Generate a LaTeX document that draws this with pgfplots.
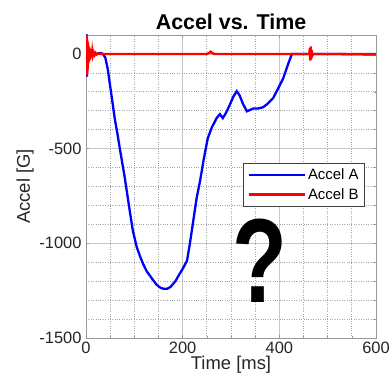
\documentclass[border=0pt]{standalone}
\usepackage{pgfplots}
\pgfplotsset{compat=1.18}
\usepackage{fontspec}
\setmainfont{Liberation Sans}
\definecolor{tickgray}{RGB}{38,38,38}
\pgfplotsset{
  mylegend/.style={legend image code/.code={\draw[##1] (0bp,0bp) -- (56bp,0bp);}},
}
\begin{document}
\begin{tikzpicture}
\begin{axis}[
  scale only axis,
  width=290bp, height=303bp,
  xmin=0, xmax=600, ymin=-1500, ymax=100,
  xtick={0,200,400,600},
  ytick={-1500,-1000,-500,0},
  minor x tick num=3,
  minor y tick num=4,
  grid=both,
  major grid style={gray!45, line width=0.6bp},
  minor grid style={gray!70, dotted, line width=0.7bp},
  tick align=inside,
  major tick length=3bp, minor tick length=1.5bp,
  tick style={gray!80, line width=0.6bp},
  axis line style={gray!80, line width=0.8bp},
  /pgf/number format/assume math mode=true,
  /pgf/number format/1000 sep={},
  ticklabel style={font=\fontsize{16.5}{18}\selectfont, text=tickgray},
  xticklabel style={yshift=-1bp},
  yticklabel style={xshift=-1bp},
  scaled y ticks=false,
  title={\textbf{Accel vs. Time}},
  title style={font=\fontsize{21.5}{23}\selectfont, yshift=-4bp},
  xlabel={Time [ms]},
  ylabel={Accel [G]},
  label style={font=\fontsize{18.5}{20}\selectfont, text=tickgray},
  xlabel style={yshift=5bp},
  ylabel style={yshift=-1bp},
  legend style={at={(0.962,0.578)}, anchor=north east, font=\fontsize{15}{17}\selectfont, draw=black!75, line width=0.6bp, row sep=3bp, inner xsep=4bp, inner ysep=4bp},
  legend cell align=left,
  mylegend,
  clip=true,
]
\addplot[blue, line width=2.3bp] coordinates {
(0,0)(1,110)(2,-120)(3,-20)(5,10)(8,-5)(12,5)(20,0)(30,5)(35,0)(40,-20)(45,-80)(50,-170)(55,-260)(60,-350)(65,-420)(70,-500)(80,-650)(90,-820)(97,-934)(105,-1020)(112,-1070)(118,-1108)(125,-1145)(132,-1170)(139,-1195)(145,-1215)(152,-1232)(160,-1240)(168,-1240)(175,-1230)(185,-1200)(194,-1160)(200,-1135)(209,-1092)(215,-1000)(222,-880)(229,-760)(236,-671)(244,-550)(252,-445)(260,-390)(270,-340)(277,-318)(283,-339)(290,-310)(298,-266)(305,-225)(312,-197)(318,-220)(325,-265)(333,-303)(340,-295)(346,-288)(356,-288)(366,-282)(375,-265)(387,-234)(397,-185)(408,-129)(418,-55)(426,0)(450,0)(500,0)(600,-3)
};
\addlegendentry{Accel A}
\addplot[red, line width=2.3bp] coordinates {
(0,0)(0.5,-20)(1,100)(1.5,-110)(2,90)(2.5,-100)(3,70)(3.5,-80)(4,60)(4.5,-55)(5,45)(6,-40)(7,35)(8,-30)(9,25)(10,-20)(11,18)(12,-15)(13,12)(14,-10)(16,8)(18,-6)(20,5)(22,-3)(25,2)(30,0)(100,0)(250,0)(255,5)(258,12)(261,5)(265,0)(300,0)(462,0)(463,30)(464,-35)(465,40)(466,-30)(467,20)(468,-10)(470,0)(600,0)
};
\addlegendentry{Accel B}
\node at (axis cs:360,-1090) {\fontsize{120}{120}\selectfont\bfseries\scalebox{0.75}[1]{?}};
\end{axis}
\pgfresetboundingbox
\path[use as bounding box] (-86bp,-51bp) rectangle (303bp,338bp);
\end{tikzpicture}
\end{document}
